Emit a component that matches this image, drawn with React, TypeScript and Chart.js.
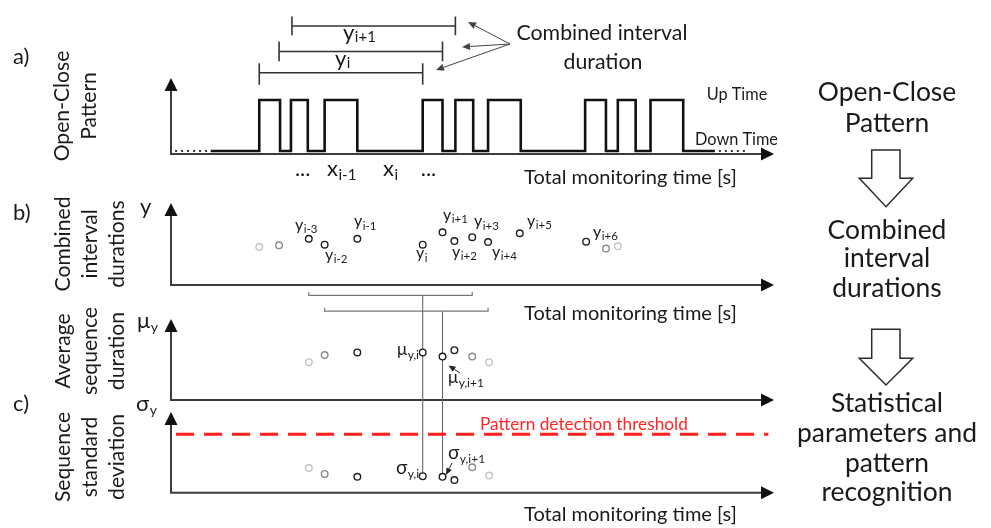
import React, { useEffect, useRef } from "react";
import { Chart, registerables } from "chart.js";
Chart.register(...registerables);

// ---------------- data (time in arbitrary units, values in arbitrary units) ----------------
const pulseRise = [8.6, 11.8, 15.2, 25.1, 28.4, 31.7, 41.5, 44.8, 48.1];
const pulseFall = [10.7, 13.5, 18.5, 27.1, 30.2, 35.0, 43.6, 46.6, 51.4];
const signalRange = [3.7, 54.6];
const leadDotsLeft = [0.1, 3.7];
const leadDotsRight = [55.0, 57.8];

const intervalTimes = [8.6, 10.6, 13.6, 15.2, 18.5, 25.1, 27.1, 28.3, 30.1, 31.7, 34.9, 41.6, 43.6, 44.8];
const intervalValues = [3.83, 4.0, 4.67, 4.07, 4.67, 4.07, 5.33, 4.43, 4.83, 4.33, 5.23, 4.37, 3.67, 3.9];
const intervalShade = [2, 1, 0, 0, 0, 0, 0, 0, 0, 0, 0, 0, 1, 2];
const intervalSubs = ["i-3", "i-2", "i-1", "i", "i+1", "i+2", "i+3", "i+4", "i+5", "i+6"];

const seqTimes = [13.6, 15.2, 18.5, 25.1, 27.1, 28.3, 30.1, 31.8];
const meanValues = [3.6, 4.33, 4.6, 4.6, 4.17, 4.83, 4.17, 3.6];
const stdValues = [2.1, 1.5, 1.2, 1.27, 1.2, 0.87, 2.17, 1.33];
const seqShade = [2, 1, 0, 0, 0, 0, 1, 2];
const threshold = 5.54;

const combinedWindows = [
  [8.6, 25.1],
  [10.6, 27.1],
  [11.9, 28.4],
];
const sequenceWindows = [
  [13.6, 30.1, 25.1],
  [15.2, 31.7, 27.1],
];

// ---------------- layout ----------------
const W = 991;
const H = 528;
const FONT = "Lato, 'Open Sans', sans-serif";
const INK = "#1a1a1a";
const AXIS = "#3c3c3c";
const shadeColor = ["#1e1e1e", "#8a8a8a", "#c4c4c4"];

// panel scales: value 0 at pixel p0, k pixels per unit
const panelScale = (p0: number, k: number) => ({
  type: "linear" as const,
  display: false,
  min: (p0 - H) / k,
  max: p0 / k,
});

const panels = [
  { base: 154, top: 78 },
  { base: 285, top: 203 },
  { base: 400, top: 319 },
  { base: 492.7, top: 412 },
];
const AXIS_X = 171;
const AXIS_END = 774;

const intervalLabelPos = [
  [295, 229.5], [325, 259.5], [354, 226], [416, 258], [443, 219.5],
  [452, 256.5], [474, 226], [492, 256.5], [527, 225.5], [593, 236.5],
];
const windowLevels = [
  { y: 69.3, t: 59.5, b: 81.5 },
  { y: 47.7, t: 37.5, b: 57.5 },
  { y: 21.7, t: 12, b: 31 },
];
const seqBracketLevels = [296, 312];
const seqLineEnd = 480;

function segDs(pts: { x: number; y: number }[], axis: string, color: string, width: number, dash: number[] = []) {
  return {
    data: pts,
    yAxisID: axis,
    showLine: true,
    borderColor: color,
    borderWidth: width,
    borderDash: dash,
    pointRadius: 0,
    pointHoverRadius: 0,
    fill: false,
    tension: 0,
    borderCapStyle: "butt" as const,
  };
}

function pointDs(times: number[], vals: number[], shades: number[], axis: string) {
  return {
    data: times.map((t, i) => ({ x: t, y: vals[i] })),
    yAxisID: axis,
    showLine: false,
    pointRadius: 3.3,
    pointHoverRadius: 3.3,
    pointBorderWidth: 1.4,
    pointBackgroundColor: "#ffffff",
    pointBorderColor: shades.map((s) => shadeColor[s]),
  };
}

function fitSize(ctx: CanvasRenderingContext2D, text: string, width: number) {
  ctx.font = `100px ${FONT}`;
  return (100 * width) / ctx.measureText(text).width;
}

function text(
  ctx: CanvasRenderingContext2D, s: string, x: number, y: number, size: number,
  align: CanvasTextAlign = "left", baseline: CanvasTextBaseline = "alphabetic", color = INK
) {
  ctx.font = `${size}px ${FONT}`;
  ctx.textAlign = align;
  ctx.textBaseline = baseline;
  ctx.fillStyle = color;
  ctx.fillText(s, x, y);
}

function subText(
  ctx: CanvasRenderingContext2D, main: string, sub: string, x: number, y: number,
  size: number, subSize: number, dy: number, color = INK
) {
  ctx.font = `${size}px ${FONT}`;
  ctx.textAlign = "left";
  ctx.textBaseline = "alphabetic";
  ctx.fillStyle = color;
  ctx.fillText(main, x, y);
  const w = ctx.measureText(main).width;
  ctx.font = `${subSize}px ${FONT}`;
  ctx.fillText(sub, x + w + 0.5, y + dy);
}

function arrow(ctx: CanvasRenderingContext2D, x1: number, y1: number, x2: number, y2: number, color: string, len = 8, half = 3.5) {
  ctx.strokeStyle = color;
  ctx.fillStyle = color;
  ctx.lineWidth = 1;
  const a = Math.atan2(y2 - y1, x2 - x1);
  const bx = x2 - Math.cos(a) * len;
  const by = y2 - Math.sin(a) * len;
  ctx.beginPath();
  ctx.moveTo(x1, y1);
  ctx.lineTo(bx, by);
  ctx.stroke();
  ctx.beginPath();
  ctx.moveTo(x2, y2);
  ctx.lineTo(bx + Math.sin(a) * half, by - Math.cos(a) * half);
  ctx.lineTo(bx - Math.sin(a) * half, by + Math.cos(a) * half);
  ctx.closePath();
  ctx.fill();
}

function rotText(ctx: CanvasRenderingContext2D, s: string, x: number, y: number, size: number) {
  ctx.save();
  ctx.translate(x, y);
  ctx.rotate(-Math.PI / 2);
  text(ctx, s, 0, 0, size, "center", "middle");
  ctx.restore();
}

function blockArrow(ctx: CanvasRenderingContext2D, top: number, shoulder: number, tip: number) {
  const cx = 886;
  ctx.beginPath();
  ctx.moveTo(871.7, top);
  ctx.lineTo(900, top);
  ctx.lineTo(900, shoulder);
  ctx.lineTo(912.7, shoulder);
  ctx.lineTo(cx, tip);
  ctx.lineTo(859.3, shoulder);
  ctx.lineTo(871.7, shoulder);
  ctx.closePath();
  ctx.fillStyle = "#ffffff";
  ctx.fill();
  ctx.strokeStyle = "#2a2a2a";
  ctx.lineWidth = 1.5;
  ctx.stroke();
}

const diagramPlugin = {
  id: "diagram",
  beforeDatasetsDraw(chart: any) {
    const ctx: CanvasRenderingContext2D = chart.ctx;
    ctx.save();
    for (const p of panels) {
      ctx.strokeStyle = AXIS;
      ctx.lineWidth = 2;
      ctx.beginPath();
      ctx.moveTo(AXIS_X, p.top + 10);
      ctx.lineTo(AXIS_X, p.base);
      ctx.lineTo(AXIS_END - 10, p.base);
      ctx.stroke();
      ctx.fillStyle = "#111";
      ctx.beginPath();
      ctx.moveTo(AXIS_X, p.top);
      ctx.lineTo(AXIS_X + 6.5, p.top + 13);
      ctx.lineTo(AXIS_X - 6.5, p.top + 13);
      ctx.closePath();
      ctx.fill();
      ctx.beginPath();
      ctx.moveTo(AXIS_END, p.base);
      ctx.lineTo(AXIS_END - 13, p.base - 6.5);
      ctx.lineTo(AXIS_END - 13, p.base + 6.5);
      ctx.closePath();
      ctx.fill();
    }
    ctx.restore();
  },
  afterDatasetsDraw(chart: any) {
    const ctx: CanvasRenderingContext2D = chart.ctx;
    const X = chart.scales.x;
    ctx.save();

    // panel letters
    text(ctx, "a)", 13, 57, 22, "left", "middle");
    text(ctx, "b)", 13, 213, 22, "left", "middle");
    text(ctx, "c)", 13, 404, 22, "left", "middle");

    // left rotated labels
    const sL = fitSize(ctx, "Combined", 95);
    rotText(ctx, "Open-Close", 62, 106, sL);
    rotText(ctx, "Pattern", 89, 106, sL);
    rotText(ctx, "Combined", 63, 244, sL);
    rotText(ctx, "interval", 90, 244, sL);
    rotText(ctx, "durations", 117, 244, sL);
    rotText(ctx, "Average", 63, 351, sL);
    rotText(ctx, "sequence", 90, 351, sL);
    rotText(ctx, "duration", 117, 351, sL);
    rotText(ctx, "Sequence", 63, 457, sL);
    rotText(ctx, "standard", 90, 457, sL);
    rotText(ctx, "deviation", 117, 457, sL);

    // axis symbols
    text(ctx, "y", 140, 214, 22);
    subText(ctx, "μ", "y", 137, 328, 22, 14, 4);
    subText(ctx, "σ", "y", 136, 411, 22, 14, 4);

    // x-axis titles
    const sT = fitSize(ctx, "Total monitoring time [s]", 213);
    text(ctx, "Total monitoring time [s]", 524, 184, sT);
    text(ctx, "Total monitoring time [s]", 524, 320, sT);
    text(ctx, "Total monitoring time [s]", 524, 521, sT);

    // up / down time
    const sU = fitSize(ctx, "Down Time", 83);
    text(ctx, "Up Time", 737, 95, sU, "center", "middle");
    text(ctx, "Down Time", 736.5, 140, sU, "center", "middle");

    // combined interval duration note
    const sC = fitSize(ctx, "Combined interval", 171);
    text(ctx, "Combined interval", 602, 33, sC, "center", "middle");
    text(ctx, "duration", 603, 62, sC, "center", "middle");
    arrow(ctx, 510, 44, 468, 22, "#444");
    arrow(ctx, 510, 44, 462, 47, "#444");
    arrow(ctx, 510, 44, 436, 70, "#444");

    // window labels (panel a)
    subText(ctx, "y", "i", 335, 66, 22, 15, 2);
    subText(ctx, "y", "i+1", 343, 40, 22, 15, 2);

    // pattern index labels
    text(ctx, "...", X.getPixelForValue(12.2), 176, 22);
    subText(ctx, "x", "i-1", 327, 176, 22, 15, 4);
    subText(ctx, "x", "i", 383, 176, 22, 15, 4);
    text(ctx, "...", X.getPixelForValue(24.9), 176, 22);

    // interval duration labels
    intervalSubs.forEach((s, i) => {
      const [lx, ly] = intervalLabelPos[i];
      subText(ctx, "y", s, lx, ly, 16, 11.5, 3.5);
    });

    // mean labels
    subText(ctx, "μ", "y,i", 397, 355, 17, 12, 3.5);
    subText(ctx, "μ", "y,i+1", 448, 383, 17, 12, 3.5);
    arrow(ctx, 460, 373, 448.5, 365.5, "#222", 7, 3);

    // std labels
    subText(ctx, "σ", "y,i", 396, 474, 19, 12, 4);
    subText(ctx, "σ", "y,i+1", 448, 459, 19, 12, 4);
    arrow(ctx, 452, 463, 446, 475, "#222", 7, 3);

    // threshold text
    const sR = fitSize(ctx, "Pattern detection threshold", 208);
    text(ctx, "Pattern detection threshold", 480, 424, sR, "left", "middle", "#ff2626");

    // right-side flow
    const sF = fitSize(ctx, "parameters and", 180);
    const cx = 887;
    text(ctx, "Open-Close", cx, 92, sF, "center", "middle");
    text(ctx, "Pattern", cx, 123.5, sF, "center", "middle");
    blockArrow(ctx, 150, 178.3, 206.7);
    text(ctx, "Combined", cx, 230, sF, "center", "middle");
    text(ctx, "interval", cx, 258.5, sF, "center", "middle");
    text(ctx, "durations", cx, 288.5, sF, "center", "middle");
    blockArrow(ctx, 329.3, 358.3, 385);
    text(ctx, "Statistical", cx, 403, sF, "center", "middle");
    text(ctx, "parameters and", cx, 433, sF, "center", "middle");
    text(ctx, "pattern", cx, 463, sF, "center", "middle");
    text(ctx, "recognition", cx, 492, sF, "center", "middle");

    ctx.restore();
  },
};

export default function App() {
  const ref = useRef<HTMLCanvasElement | null>(null);

  useEffect(() => {
    document.body.style.margin = "0";
    const canvas = ref.current;
    if (!canvas) return;

    // open-close signal
    const signal: { x: number; y: number }[] = [{ x: signalRange[0], y: 0 }];
    pulseRise.forEach((r, i) => {
      signal.push({ x: r, y: 0 }, { x: r, y: 1 }, { x: pulseFall[i], y: 1 }, { x: pulseFall[i], y: 0 });
    });
    signal.push({ x: signalRange[1], y: 0 });

    const datasets: any[] = [
      pointDs(intervalTimes, intervalValues, intervalShade, "yB"),
      pointDs(seqTimes, meanValues, seqShade, "yM"),
      pointDs(seqTimes, stdValues, seqShade, "yS"),
      segDs(signal, "yA", "#111111", 2.6),
      segDs(leadDotsLeft.map((t) => ({ x: t, y: 0 })), "yA", "#333333", 2, [2, 4]),
      segDs(leadDotsRight.map((t) => ({ x: t, y: 0 })), "yA", "#333333", 2, [2, 4]),
      segDs([{ x: 0.2, y: threshold }, { x: 60.0, y: threshold }], "yS", "#ff1f1f", 3, [18, 10]),
    ];

    combinedWindows.forEach(([a, b], i) => {
      const l = windowLevels[i];
      datasets.push(segDs([{ x: a, y: l.y }, { x: b, y: l.y }], "y", "#333333", 1.6));
      datasets.push(segDs([{ x: a, y: l.t }, { x: a, y: l.b }], "y", "#333333", 1.6));
      datasets.push(segDs([{ x: b, y: l.t }, { x: b, y: l.b }], "y", "#333333", 1.6));
    });

    sequenceWindows.forEach(([a, b, c], i) => {
      const yy = seqBracketLevels[i];
      datasets.push(
        segDs([{ x: a, y: yy - 3.5 }, { x: a, y: yy }, { x: b, y: yy }, { x: b, y: yy - 3.5 }], "y", "#777777", 1.2)
      );
      datasets.push(segDs([{ x: c, y: yy }, { x: c, y: seqLineEnd }], "y", "#666666", 1.1));
    });

    const chart = new Chart(canvas, {
      type: "scatter",
      data: { datasets },
      options: {
        responsive: false,
        maintainAspectRatio: false,
        animation: false,
        events: [],
        layout: { padding: 0 },
        plugins: { legend: { display: false }, tooltip: { enabled: false } },
        scales: {
          x: { type: "linear", display: false, min: -17.1, max: 82.0 },
          y: { type: "linear", display: false, min: 0, max: H, reverse: true },
          yA: panelScale(149, 52),
          yB: panelScale(285, 10),
          yM: panelScale(400, 10),
          yS: panelScale(492.7, 10),
        },
      } as any,
      plugins: [diagramPlugin],
    });

    return () => chart.destroy();
  }, []);

  return (
    <div style={{ width: W, height: H, background: "#ffffff" }}>
      <canvas ref={ref} width={W} height={H} style={{ display: "block" }} />
    </div>
  );
}
